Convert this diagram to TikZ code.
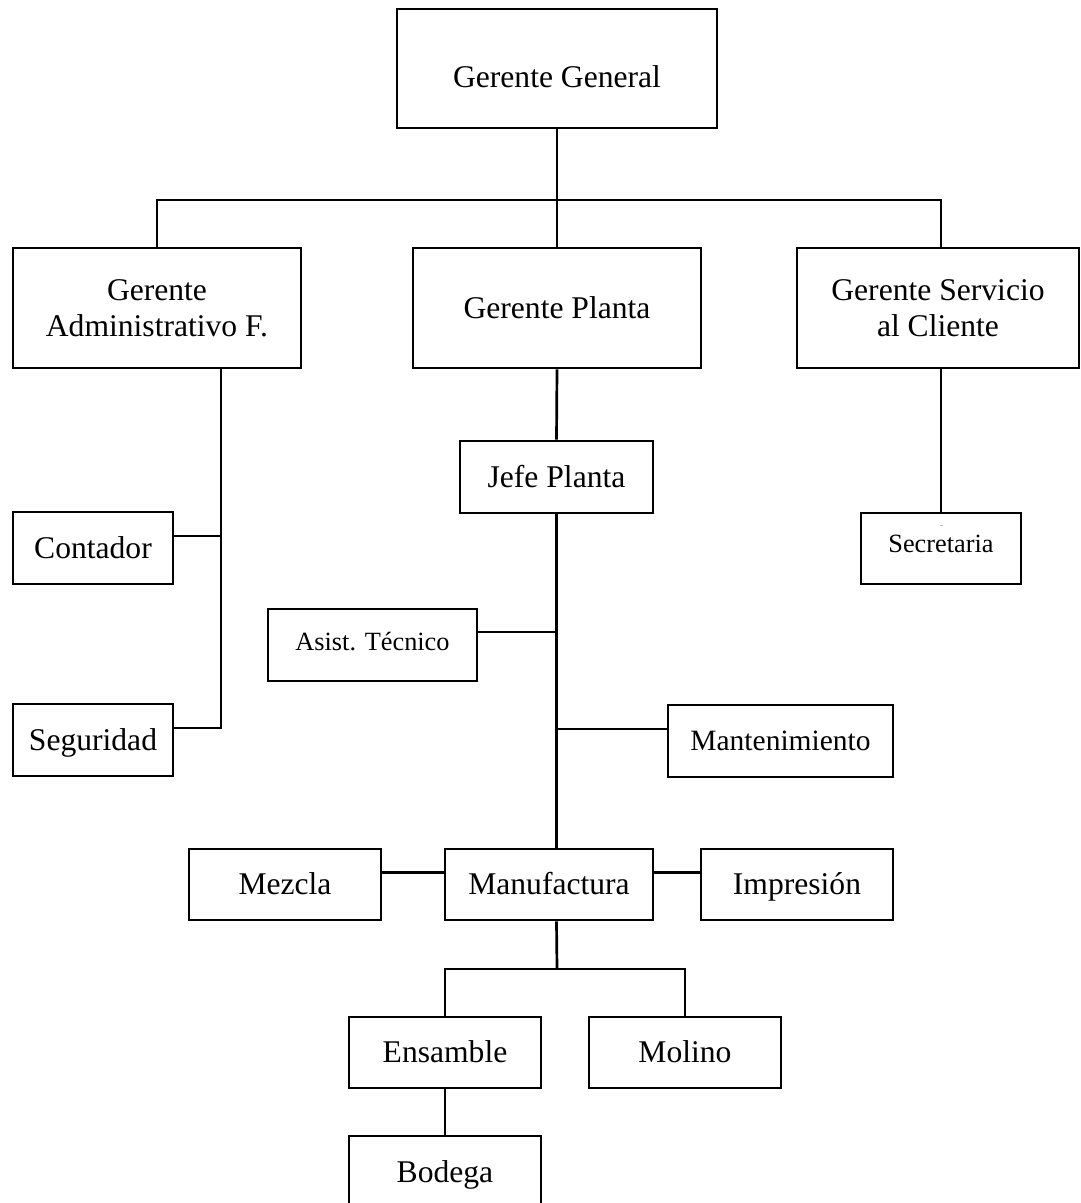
\documentclass[tikz,border=0pt]{standalone}
\usepackage{fontspec}
\setmainfont{Liberation Serif}
\begin{document}
\begin{tikzpicture}[x=1pt,y=-1pt,
  box/.style={draw, line width=2.7pt, inner sep=0pt, align=center},
  boxtwo/.style={draw, line width=2.7pt, inner sep=0pt, align=center},
  big/.style={font=\fontsize{31.6}{36.3}\selectfont, text height=28pt, text depth=7.1pt},
  bigtwo/.style={font=\fontsize{31.6}{36.3}\selectfont},
  mid/.style={font=\fontsize{29.5}{34}\selectfont, text height=26pt, text depth=6.5pt},
  small/.style={font=\fontsize{26.3}{30}\selectfont, text height=24pt, text depth=6.6pt},
  conn/.style={line width=2.7pt}]
\useasboundingbox (0,0) rectangle (1080,1203);

% level 1
\node[box, big, minimum width=320pt, minimum height=119pt] (gg) at (557,68.5) {\raisebox{-9pt}{Gerente General}};
% level 2
\node[boxtwo, bigtwo, minimum width=288pt, minimum height=120pt] (gaf) at (157,308) {Gerente\\Administrativo F.};
\node[box, big, minimum width=288pt, minimum height=120pt] (gp) at (557,308) {Gerente Planta};
\node[boxtwo, bigtwo, minimum width=282pt, minimum height=120pt] (gsc) at (938,308) {Gerente Servicio\\al Cliente};
% level 3
\node[box, big, minimum width=193pt, minimum height=72pt] (jefe) at (556.5,477) {Jefe Planta};
\node[box, small, minimum width=160pt, minimum height=71pt] (sec) at (941,548.5) {\raisebox{5pt}{Secretaria}};
\node[box, big, minimum width=160pt, minimum height=72pt] (con) at (93,548) {Contador};
\node[box, big, minimum width=160pt, minimum height=72pt] (seg) at (93,740) {Seguridad};
\node[box, small, minimum width=209pt, minimum height=72pt] (asist) at (372.5,645) {\raisebox{3pt}{Asist. Técnico}};
\node[box, mid, minimum width=225pt, minimum height=72pt] (mant) at (780.5,741) {Mantenimiento};
% production
\node[box, big, minimum width=192pt, minimum height=71pt] (mez) at (285,884.5) {Mezcla};
\node[box, big, minimum width=208pt, minimum height=71pt] (manu) at (549,884.5) {Manufactura};
\node[box, big, minimum width=192pt, minimum height=71pt] (imp) at (797,884.5) {Impresión};
\node[box, big, minimum width=192pt, minimum height=71pt] (ens) at (445,1052.5) {Ensamble};
\node[box, big, minimum width=192pt, minimum height=71pt] (mol) at (685,1052.5) {Molino};
\node[box, big, minimum width=192pt, minimum height=72pt] (bod) at (445,1172) {Bodega};

% small grey mark inside Secretaria box
\draw[gray!55, line width=0.9pt] (939.5,525) -- (942.5,525);

% connectors
\coordinate (bus1) at (557,200);
\coordinate (bus2) at (557,969);
\draw[conn] (gg.south) -- (bus1);
\draw[conn] (gaf.north) |- (bus1) -| ([xshift=3pt]gsc.north);
\draw[conn] (bus1) -- (gp.north);

\draw[conn] ([xshift=3pt]gsc.south) -- (sec.north);

\draw[conn] ([xshift=64pt]gaf.south) |- ([yshift=12pt]seg.east);
\draw[conn] ([yshift=12pt]con.east) -- ++(48pt,0);

\draw[conn] (gp.south) -- (jefe.north);
\draw[conn] (jefe.south) -- (jefe.south |- manu.north);
\draw[conn] ([yshift=13pt]asist.east) -- ++(80pt,0);
\draw[conn] ([yshift=12pt]mant.west) -- ++(-111pt,0);

\draw[conn] ([yshift=12pt]mez.east) -- ([yshift=12pt]manu.west);
\draw[conn] ([yshift=12pt]manu.east) -- ([yshift=12pt]imp.west);

\draw[conn] (manu.south -| jefe.south) -- (bus2);
\draw[conn] (ens.north) |- (bus2) -| (mol.north);
\draw[conn] (ens.south) -- (bod.north);
\end{tikzpicture}
\end{document}
